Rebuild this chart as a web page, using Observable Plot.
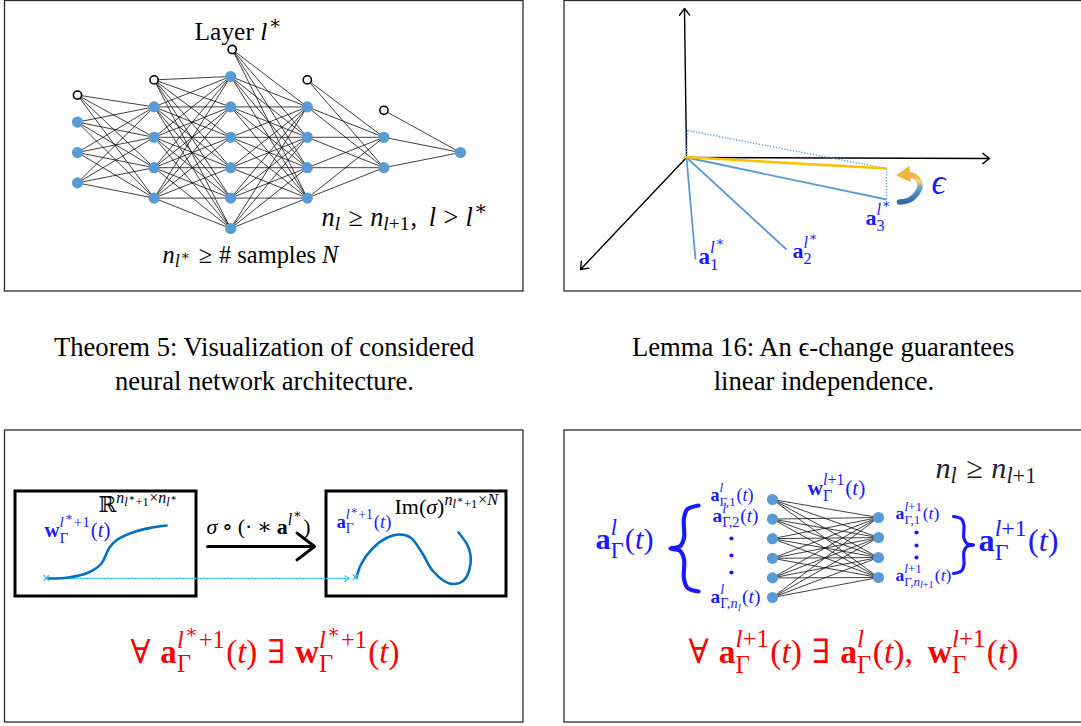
<!DOCTYPE html>
<html><head><meta charset="utf-8">
<script src="https://cdn.jsdelivr.net/npm/d3@7"></script>
<script src="https://cdn.jsdelivr.net/npm/@observablehq/plot@0.6"></script>
<style>html,body{margin:0;padding:0;background:#fff}#fig svg{display:block}</style>
</head><body><div id="fig"></div>
<script>
// ---------------- DATA ----------------
// Panel A: neural network, neurons per layer and whether a bias node sits on top
const netLayerSizes = [3, 4, 6, 4, 2, 1];
const netHasBias = [true, true, true, true, true, false];
// Panel D: two fully connected layers
const subLayerSizes = [6, 4];
// Panel B: origin, axis tips and vector tips (picture units)
const origin3d = {x: 686, y: 157};
const axisTips = [{x: 684, y: 8}, {x: 989, y: 158}, {x: 580, y: 269}];
const vecTips = [{name: "a1", x: 695, y: 259}, {name: "a2", x: 786, y: 249}, {name: "a3", x: 886, y: 199}];
const perturbedTip = {x: 886, y: 168};
const projTop = {x: 687, y: 130};
const epsArc = [[899, 201.5], [906, 200.5], [912, 197.5], [917, 192], [919.5, 186], [918.5, 180.5], [915, 176.5], [910, 174.5]];
// Panel C: curves in the two boxes
const curveW = [[47, 578], [68, 577], [88, 572], [101, 563], [106, 553], [109, 547], [117, 539], [135, 531], [152, 527], [166, 525]];
const curveA = [[356, 577], [361, 563], [372, 548], [385, 538], [399, 534], [410, 537], [422, 553], [432, 570], [449, 583], [463, 580], [470, 563], [468, 547], [458, 532]];
// Captions
const captionA = ["Theorem 5: Visualization of considered", "neural network architecture."];
const captionB = ["Lemma 16: An \u03F5-change guarantees", "linear independence."];

// ---------------- text layout helpers ----------------
const FAM = '"Liberation Serif", "DejaVu Serif", serif';
const cv = document.createElement("canvas").getContext("2d");
function tw(t, size, w, s) { cv.font = `${s} ${w} ${size}px ${FAM}`; return cv.measureText(t).width; }
const R = t => ({t, w: "normal", s: "normal"});
const I = t => ({t, w: "normal", s: "italic"});
const B = t => ({t, w: "bold", s: "normal"});
const S = (sub, sup) => ({sub, sup});
const SP = e => ({sp: e});
const AST = S(null, [R("\u2217")]);

function lay(items, x, y, size, color, out, level) {
  let cx = x, prevItalic = false;
  for (const it of items) {
    if (it.sp != null) { cx += it.sp * size; prevItalic = false; continue; }
    if (it.sub || it.sup) {
      const ss = size * (level >= 1 ? 0.78 : 0.74);
      const ic = prevItalic ? size * 0.05 : 0;
      let w1 = 0, w2 = 0;
      if (it.sup) w1 = lay(it.sup, cx + ic, y - size * (it.sub ? 0.45 : 0.4), ss, color, out, level + 1) + ic;
      if (it.sub) w2 = lay(it.sub, cx, y + size * (it.sup ? 0.3 : 0.18), ss, color, out, level + 1);
      cx += Math.max(w1, w2) + size * 0.04;
      prevItalic = false;
      continue;
    }
    const w = tw(it.t, size, it.w, it.s);
    out.push({x: cx, y, text: it.t, size, w: it.w, s: it.s, color});
    cx += w;
    prevItalic = it.s === "italic";
  }
  return cx - x;
}
function place(spec, out) {
  const w20 = lay(spec.items, 0, 0, 20, "", [], 0);
  const size = spec.size || 20 * (spec.x1 - spec.x0) / w20;
  const w = w20 * size / 20;
  const x = spec.cx != null ? spec.cx - w / 2 : spec.x0;
  lay(spec.items, x, spec.y, size, spec.color || "#000", out, 0);
  return size;
}

const BLUE = "#1a1aff", RED = "#ff0000";
const supLs1 = [I("l"), AST, R("+1")];
const tParen = [R("("), I("t"), R(")")];
const labels = [
  // Panel A
  {items: [R("Layer "), I("l"), AST], x0: 194, x1: 282, y: 39},
  {items: [I("n"), S([I("l")]), SP(0.28), R("\u2265"), SP(0.28), I("n"), S([I("l"), R("+1")]), R(","), SP(0.45), I("l"), SP(0.28), R(">"), SP(0.28), I("l"), AST], x0: 321, x1: 488, y: 225},
  {items: [I("n"), S([I("l"), AST]), SP(0.28), R("\u2265"), SP(0.28), R("# samples "), I("N")], x0: 162, x1: 338, y: 262},
  // Panel B
  {items: [B("a"), S([R("1")], [I("l"), AST])], x0: 698, size: 23, y: 263, color: BLUE},
  {items: [B("a"), S([R("2")], [I("l"), AST])], x0: 792, size: 22, y: 257, color: BLUE},
  {items: [B("a"), S([R("3")], [I("l"), AST])], x0: 865, size: 22, y: 224, color: BLUE},
  {items: [I("\u03F5")], x0: 931, x1: 945, y: 193, color: BLUE},
  // Panel C
  {items: [I("\u03C3"), SP(0.22), R("\u2218"), SP(0.22), R("(\u00B7"), SP(0.22), R("\u2217"), SP(0.22), B("a"), S(null, [I("l"), AST]), R(")")], x0: 206, x1: 310, y: 533},
  {items: [R("\u211D"), S(null, [I("n"), S([I("l"), AST, R("+1")]), R("\u00D7"), I("n"), S([I("l"), AST])])], x0: 98, size: 21.5, y: 511.5},
  {items: [B("w"), S([R("\u0393")], supLs1), ...tParen], x0: 44, x1: 110, y: 536, color: BLUE},
  {items: [B("a"), S([R("\u0393")], supLs1), ...tParen], x0: 336, x1: 391, y: 527, color: BLUE},
  {items: [R("Im("), I("\u03C3"), R(")"), S(null, [I("n"), S([I("l"), AST, R("+1")]), R("\u00D7"), I("N")])], x0: 394, size: 22, y: 513},
  {items: [R("\u2200"), SP(0.3), B("a"), S([R("\u0393")], supLs1), ...tParen, SP(0.3), R("\u2203"), SP(0.3), B("w"), S([R("\u0393")], supLs1), ...tParen], x0: 130, x1: 399, y: 662, color: RED},
  // Panel D
  {items: [B("a"), S([R("\u0393,1")], [I("l")]), ...tParen], x0: 710, x1: 753, y: 500, color: BLUE},
  {items: [B("a"), S([R("\u0393,2")], [I("l")]), ...tParen], x0: 712, x1: 758, y: 521, color: BLUE},
  {items: [B("a"), S([R("\u0393,"), I("n"), S([I("l")])], [I("l")]), ...tParen], x0: 710, x1: 760, y: 602, color: BLUE},
  {items: [B("a"), S([R("\u0393,1")], [I("l"), R("+1")]), ...tParen], x0: 895, x1: 939, y: 518, color: BLUE},
  {items: [B("a"), S([R("\u0393,"), I("n"), S([I("l"), R("+1")])], [I("l"), R("+1")]), ...tParen], x0: 895, x1: 951, y: 580, color: BLUE},
  {items: [B("a"), S([R("\u0393")], [I("l")]), ...tParen], x0: 595, x1: 653, y: 548, color: BLUE},
  {items: [B("a"), S([R("\u0393")], [I("l"), R("+1")]), ...tParen], x0: 978, x1: 1058, y: 550, color: BLUE},
  {items: [B("w"), S([R("\u0393")], [I("l"), R("+1")]), ...tParen], x0: 807, x1: 865, y: 494, color: BLUE},
  {items: [I("n"), S([I("l")]), SP(0.28), R("\u2265"), SP(0.28), I("n"), S([I("l"), R("+1")])], x0: 935, x1: 1037, y: 477, color: "#222"},
  {items: [R("\u2200"), SP(0.3), B("a"), S([R("\u0393")], [I("l"), R("+1")]), ...tParen, SP(0.3), R("\u2203"), SP(0.3), B("a"), S([R("\u0393")], [I("l")]), R("("), I("t"), R("),"), SP(0.45), B("w"), S([R("\u0393")], [I("l"), R("+1")]), ...tParen], x0: 688, x1: 1018, y: 662, color: RED}
];

const pieces = [];
labels.forEach(l => place(l, pieces));
// captions: same font size for both lines of a caption
[[captionA, 264, 53, 474], [captionB, 823.5, 632, 1016]].forEach(([lines, cx, x0, x1]) => {
  const size = place({items: [R(lines[0])], x0, x1, cx, y: 355}, pieces);
  place({items: [R(lines[1])], cx, size, y: 389}, pieces);
});

// ---------------- geometry derived from data ----------------
const netX = li => 77 + li * 76.6;
const netY = (n, k) => 152 + (k - (n - 1) / 2) * 30.4;
const netNodes = [];
netLayerSizes.forEach((n, li) => {
  for (let k = 0; k < n; k++) netNodes.push({layer: li, bias: false, x: netX(li), y: netY(n, k)});
  if (netHasBias[li]) netNodes.push({layer: li, bias: true, x: netX(li) + (li === 2 ? 1.5 : 0), y: netY(n, 0) - 27});
});
const netEdges = [];
netNodes.forEach(a => netNodes.forEach(b => {
  if (!b.bias && b.layer === a.layer + 1) netEdges.push({x1: a.x, y1: a.y, x2: b.x, y2: b.y});
}));

const subNodes = [];
subLayerSizes.forEach((n, li) => {
  const cx = li === 0 ? 772 : 878, cy = li === 0 ? 548 : 547, gap = li === 0 ? 19.6 : 20;
  for (let k = 0; k < n; k++) subNodes.push({layer: li, x: cx, y: cy + (k - (n - 1) / 2) * gap});
});
const subEdges = [];
subNodes.forEach(a => subNodes.forEach(b => { if (b.layer === a.layer + 1) subEdges.push({x1: a.x, y1: a.y, x2: b.x, y2: b.y}); }));

const panels = [
  {x1: 4.5, y1: 0.5, x2: 523, y2: 291}, {x1: 564, y1: 0.5, x2: 1100, y2: 291},
  {x1: 4.5, y1: 430, x2: 523, y2: 722}, {x1: 564, y1: 430, x2: 1100, y2: 722}
];
const innerBoxes = [{x1: 15, y1: 491, x2: 196, y2: 596}, {x1: 326, y1: 491, x2: 506, y2: 596}];

// brace outline in unit coordinates (u: 0 tip side .. 1 open side, v: 0 top .. 1 bottom)
const braceUnit = [[1, 0], [0.6, 0.045], [0.48, 0.15], [0.48, 0.38], [0.33, 0.475], [0, 0.5], [0.33, 0.525], [0.48, 0.62], [0.48, 0.85], [0.6, 0.955], [1, 1]];
function brace(xTip, xOpen, y0, y1) { return braceUnit.map(([u, v]) => ({x: xTip + u * (xOpen - xTip), y: y0 + v * (y1 - y0)})); }
const braceL = brace(670, 698, 505, 591);
const braceR = brace(973, 953, 516, 573);

const leftDots = [538, 555, 572].map(y => ({x: 731, y}));
const rightDots = [532, 545, 557].map(y => ({x: 916, y}));

const textMarks = [["normal", "normal"], ["normal", "italic"], ["bold", "normal"]].map(([w, s]) =>
  Plot.text(pieces.filter(p => p.w === w && p.s === s), {
    x: "x", y: "y", text: "text", fontSize: d => d.size, fill: d => d.color,
    fontWeight: w, fontStyle: s, fontFamily: FAM, textAnchor: "start", lineAnchor: "bottom"
  }));

const chart = Plot.plot({
  width: 1081, height: 726, margin: 0,
  x: {domain: [0, 1081], range: [0, 1081], axis: null},
  y: {domain: [0, 726], range: [0, 726], axis: null},
  color: {type: "identity"},
  style: {background: "#fff"},
  marks: [
    Plot.rect(panels, {x1: "x1", y1: "y1", x2: "x2", y2: "y2", fill: "none", stroke: "#2a2a2a", strokeWidth: 1.3}),
    // Panel A
    Plot.link(netEdges, {x1: "x1", y1: "y1", x2: "x2", y2: "y2", stroke: "#000", strokeWidth: 0.75}),
    Plot.dot(netNodes.filter(d => !d.bias), {x: "x", y: "y", r: 5.6, fill: "#5b9bd5"}),
    Plot.dot(netNodes.filter(d => d.bias), {x: "x", y: "y", r: 4.1, fill: "#fff", stroke: "#000", strokeWidth: 1.6}),
    // Panel B
    Plot.arrow(axisTips, {x1: () => origin3d.x, y1: () => origin3d.y, x2: "x", y2: "y", stroke: "#000", strokeWidth: 1.4, headLength: 9, headAngle: 75}),
    Plot.link([[projTop, origin3d], [projTop, perturbedTip], [perturbedTip, vecTips[2]]], {x1: d => d[0].x, y1: d => d[0].y, x2: d => d[1].x, y2: d => d[1].y, stroke: "#5b9bd5", strokeWidth: 1.3, strokeDasharray: "1.3,1.6"}),
    Plot.link(vecTips, {x1: () => origin3d.x, y1: () => origin3d.y, x2: "x", y2: "y", stroke: "#5b9bd5", strokeWidth: 1.8}),
    Plot.link([perturbedTip], {x1: () => origin3d.x - 3, y1: () => origin3d.y - 0.5, x2: "x", y2: "y", stroke: "#ffc000", strokeWidth: 2.4}),
    Plot.line(epsArc, {x: d => d[0], y: d => d[1], curve: "catmull-rom", stroke: "url(#epsGrad)", strokeWidth: 5.5}),
    Plot.dot([epsArc[epsArc.length - 1]], {x: d => d[0] - 5, y: d => d[1] - 0.5, symbol: "triangle", r: 6, rotate: -95, fill: "#f2b33d"}),
    // Panel C
    Plot.rect(innerBoxes, {x1: "x1", y1: "y1", x2: "x2", y2: "y2", fill: "none", stroke: "#000", strokeWidth: 3}),
    Plot.arrow([{x1: 207, x2: 314, y: 546}], {x1: "x1", x2: "x2", y1: "y", y2: "y", stroke: "#000", strokeWidth: 3, headLength: 11, headAngle: 75}),
    Plot.arrow([{x1: curveW[0][0], x2: curveA[0][0] - 7, y: 578}], {x1: "x1", x2: "x2", y1: "y", y2: "y", stroke: "#33bff2", strokeWidth: 1.3, strokeDasharray: "1.4,1.6", headLength: 6, headAngle: 60}),
    Plot.line(curveW, {x: d => d[0], y: d => d[1], curve: "catmull-rom", stroke: "#0070c0", strokeWidth: 2.6}),
    Plot.line(curveA, {x: d => d[0], y: d => d[1], curve: "catmull-rom", stroke: "#0070c0", strokeWidth: 2.6}),
    Plot.dot([curveW[0], curveA[0]], {x: d => d[0] - 1, y: d => d[1] - 0.5, symbol: "times", r: 2.6, stroke: "#33bff2", strokeWidth: 1.3}),
    // Panel D
    Plot.link(subEdges, {x1: "x1", y1: "y1", x2: "x2", y2: "y2", stroke: "#000", strokeWidth: 0.75}),
    Plot.dot(subNodes, {x: "x", y: "y", r: 5.6, fill: "#5b9bd5"}),
    Plot.line(braceL, {x: "x", y: "y", curve: "catmull-rom", stroke: "#1a1aff", strokeWidth: 4.2, strokeLinecap: "round"}),
    Plot.line(braceR, {x: "x", y: "y", curve: "catmull-rom", stroke: "#1a1aff", strokeWidth: 3.2, strokeLinecap: "round"}),
    Plot.dot([...leftDots, ...rightDots], {x: "x", y: "y", r: 2.1, fill: "#1a1aff"}),
    ...textMarks
  ]
});

// gradient for the epsilon arrow
const defs = d3.select(chart).insert("defs", ":first-child");
const g = defs.append("linearGradient").attr("id", "epsGrad").attr("gradientUnits", "userSpaceOnUse")
  .attr("x1", 0).attr("y1", 202).attr("x2", 0).attr("y2", 172);
g.append("stop").attr("offset", "0%").attr("stop-color", "#2d6aa8");
g.append("stop").attr("offset", "45%").attr("stop-color", "#5d9bd0");
g.append("stop").attr("offset", "70%").attr("stop-color", "#f4cf7a");
g.append("stop").attr("offset", "100%").attr("stop-color", "#f0ad30");
document.getElementById("fig").appendChild(chart);
</script>
</body></html>
